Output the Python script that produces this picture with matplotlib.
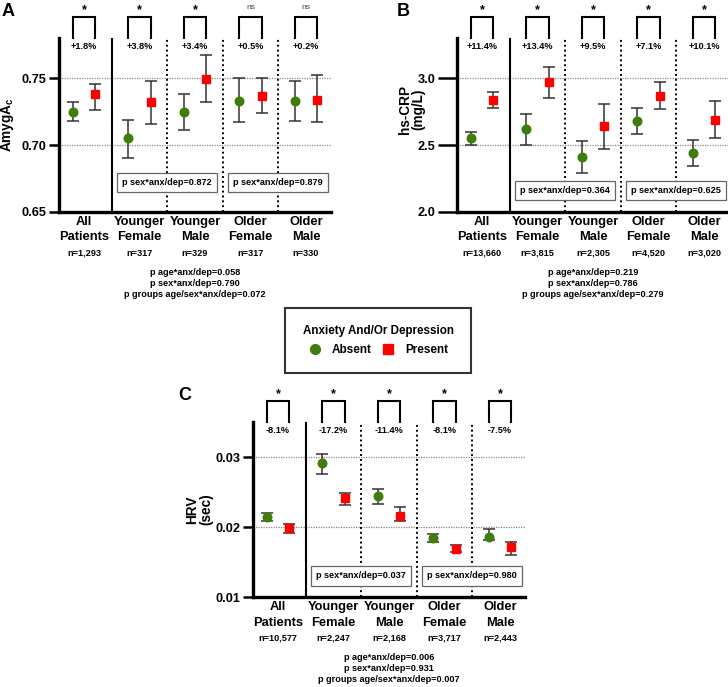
import matplotlib
matplotlib.use("Agg")
import matplotlib.pyplot as plt
from matplotlib.lines import Line2D

plt.rcParams['font.family'] = ['Liberation Sans', 'DejaVu Sans']
plt.rcParams['font.weight'] = 'bold'
plt.rcParams['mathtext.fontset'] = 'custom'
plt.rcParams['mathtext.rm'] = 'Liberation Sans'
plt.rcParams['mathtext.bf'] = 'Liberation Sans:bold'

groups = ["All\nPatients", "Younger\nFemale", "Younger\nMale", "Older\nFemale", "Older\nMale"]

# panel A - AmygA_c
amyg_absent = [0.725, 0.705, 0.725, 0.733, 0.733]
amyg_absent_lo = [0.718, 0.690, 0.711, 0.717, 0.718]
amyg_absent_hi = [0.732, 0.719, 0.738, 0.750, 0.748]
amyg_present = [0.738, 0.732, 0.749, 0.737, 0.734]
amyg_present_lo = [0.726, 0.716, 0.732, 0.724, 0.717]
amyg_present_hi = [0.746, 0.748, 0.767, 0.750, 0.752]
amyg_n = ["n=1,293", "n=317", "n=329", "n=317", "n=330"]
amyg_pct = ["+1.8%", "+3.8%", "+3.4%", "+0.5%", "+0.2%"]
amyg_sig = ["*", "*", "*", "ns", "ns"]
amyg_box = ["p sex*anx/dep=0.872", "p sex*anx/dep=0.879"]
amyg_p = "p age*anx/dep=0.058\np sex*anx/dep=0.790\np groups age/sex*anx/dep=0.072"

# panel B - hs-CRP
crp_absent = [2.55, 2.62, 2.41, 2.68, 2.44]
crp_absent_lo = [2.50, 2.50, 2.29, 2.58, 2.34]
crp_absent_hi = [2.60, 2.73, 2.53, 2.78, 2.54]
crp_present = [2.84, 2.97, 2.64, 2.87, 2.69]
crp_present_lo = [2.78, 2.85, 2.47, 2.77, 2.55]
crp_present_hi = [2.90, 3.08, 2.81, 2.97, 2.83]
crp_n = ["n=13,660", "n=3,815", "n=2,305", "n=4,520", "n=3,020"]
crp_pct = ["+11.4%", "+13.4%", "+9.5%", "+7.1%", "+10.1%"]
crp_sig = ["*", "*", "*", "*", "*"]
crp_box = ["p sex*anx/dep=0.364", "p sex*anx/dep=0.625"]
crp_p = "p age*anx/dep=0.219\np sex*anx/dep=0.786\np groups age/sex*anx/dep=0.279"

# panel C - HRV
hrv_absent = [0.0214, 0.0291, 0.0244, 0.0184, 0.0186]
hrv_absent_lo = [0.0209, 0.0276, 0.0233, 0.0179, 0.0181]
hrv_absent_hi = [0.0220, 0.0305, 0.0254, 0.0190, 0.0197]
hrv_present = [0.0199, 0.0241, 0.0216, 0.0169, 0.0172]
hrv_present_lo = [0.0192, 0.0232, 0.0208, 0.0165, 0.0160]
hrv_present_hi = [0.0204, 0.0249, 0.0228, 0.0174, 0.0178]
hrv_n = ["n=10,577", "n=2,247", "n=2,168", "n=3,717", "n=2,443"]
hrv_pct = ["-8.1%", "-17.2%", "-11.4%", "-8.1%", "-7.5%"]
hrv_sig = ["*", "*", "*", "*", "*"]
hrv_box = ["p sex*anx/dep=0.037", "p sex*anx/dep=0.980"]
hrv_p = "p age*anx/dep=0.006\np sex*anx/dep=0.931\np groups age/sex*anx/dep=0.007"

GREEN = "#3f7d0c"
RED = "#ff0000"
W, H = 728, 687
PT = 0.72  # points per pixel at dpi 100

fig = plt.figure(figsize=(7.28, 6.87), dpi=100)


def make_axes(left, top, bottom):
    # pixel coordinates -> figure fraction, 272 px wide
    return fig.add_axes([left / W, 1 - bottom / H, 272 / W, (bottom - top) / H])


def panel(ax, ylim, yticks, fmt, absent, alo, ahi, present, plo, phi,
          nlab, pct, sig, boxes, boxy, ptext, ylabel, ylabel_xy, ticklen):
    x = range(len(groups))
    xa = [i - 0.2 for i in x]
    xp = [i + 0.2 for i in x]
    ax.set_xlim(-0.45, 4.45)
    ax.set_ylim(*ylim)
    for t in yticks[1:]:
        ax.axhline(t, color="#888888", lw=0.9, ls=(0, (1, 1)), zorder=0)
    ax.axvline(0.5, color="black", lw=1.5, zorder=1)
    for s in [1.5, 2.5, 3.5]:
        ax.axvline(s, color="black", lw=1.4, ls=(0, (1, 1.5)), zorder=1)

    ax.errorbar(xa, absent, yerr=[[a - l for a, l in zip(absent, alo)], [h - a for a, h in zip(absent, ahi)]],
                fmt="none", ecolor="#333333", elinewidth=1.1, capsize=4, capthick=1.1, zorder=2)
    ax.errorbar(xp, present, yerr=[[a - l for a, l in zip(present, plo)], [h - a for a, h in zip(present, phi)]],
                fmt="none", ecolor="#333333", elinewidth=1.1, capsize=4, capthick=1.1, zorder=2)
    ax.plot(xa, absent, "o", color=GREEN, ms=6.2, zorder=3)
    ax.plot(xp, present, "s", color=RED, ms=6.2, zorder=3)

    for s in ["top", "right"]:
        ax.spines[s].set_visible(False)
    ax.spines["left"].set_linewidth(2.4)
    ax.spines["bottom"].set_linewidth(2.4)
    ax.set_yticks(yticks)
    ax.set_yticklabels([fmt.format(t) for t in yticks], fontsize=9.2, fontweight="bold")
    ax.tick_params(axis="y", length=ticklen, width=1.8, pad=1.5)
    ax.set_xticks([])
    ax.set_ylabel(ylabel, fontsize=9.8, fontweight="bold", linespacing=1.0)
    ax.yaxis.set_label_coords(*ylabel_xy)

    tr = ax.get_xaxis_transform()
    for i in x:
        first, second = groups[i].split("\n")
        ax.annotate(first, (i, 0), xycoords=tr, xytext=(0, -10 * PT), textcoords="offset points",
                    ha="center", va="center", fontsize=9.3, fontweight="bold")
        ax.annotate(second, (i, 0), xycoords=tr, xytext=(0, -25.5 * PT), textcoords="offset points",
                    ha="center", va="center", fontsize=9.3, fontweight="bold")
        ax.annotate(nlab[i], (i, 0), xycoords=tr, xytext=(0, -41 * PT), textcoords="offset points",
                    ha="center", va="center", fontsize=6.6, fontweight="bold")
        ax.text(i, 0.954, pct[i], transform=tr, ha="center", va="center",
                fontsize=6.6, fontweight="bold")
        ax.plot([xa[i], xa[i], xp[i], xp[i]], [1.0, 1.118, 1.118, 1.0], transform=tr,
                color="black", lw=1.5, clip_on=False, solid_joinstyle="miter")
        if sig[i] == "ns":
            ax.text(i, 1.175, "ns", transform=tr, ha="center", va="center",
                    fontsize=6, fontweight="normal", color="#444444")
        else:
            ax.text(i, 1.16, "*", transform=tr, ha="center", va="center",
                    fontsize=9, fontweight="bold")

    for cx, txt in zip([1.5, 3.5], boxes):
        ax.text(cx, boxy, txt, transform=tr, ha="center", va="center",
                fontsize=6.6, fontweight="bold",
                bbox=dict(boxstyle="square,pad=0.55", fc="white", ec="#666666", lw=0.9), zorder=4)

    ax.annotate(ptext, (2.0, 0), xycoords=tr, xytext=(0, -40.5),
                textcoords="offset points", ha="center", va="top", fontsize=6.6,
                fontweight="bold", linespacing=1.25)


axA = make_axes(59, 38, 212)
panel(axA, (0.65, 0.78), [0.65, 0.70, 0.75], "{:.2f}",
      amyg_absent, amyg_absent_lo, amyg_absent_hi, amyg_present, amyg_present_lo, amyg_present_hi,
      amyg_n, amyg_pct, amyg_sig, amyg_box, 0.172, amyg_p,
      r"AmygA$_\mathbf{c}$", (-0.158, 0.5), 7.5)

axB = make_axes(457, 38, 212)
panel(axB, (2.0, 3.3), [2.0, 2.5, 3.0], "{:.1f}",
      crp_absent, crp_absent_lo, crp_absent_hi, crp_present, crp_present_lo, crp_present_hi,
      crp_n, crp_pct, crp_sig, crp_box, 0.122, crp_p,
      "hs-CRP\n(mg/L)", (-0.115, 0.59), 14)

axC = make_axes(253, 422, 597)
panel(axC, (0.01, 0.035), [0.01, 0.02, 0.03], "{:.2f}",
      hrv_absent, hrv_absent_lo, hrv_absent_hi, hrv_present, hrv_present_lo, hrv_present_hi,
      hrv_n, hrv_pct, hrv_sig, hrv_box, 0.12, hrv_p,
      "HRV\n(sec)", (-0.145, 0.5), 7.5)

fig.text(2 / W, 1 - 12 / H, "A", fontsize=13, fontweight="bold", ha="left", va="center")
fig.text(397 / W, 1 - 12 / H, "B", fontsize=13, fontweight="bold", ha="left", va="center")
fig.text(178 / W, 1 - 395 / H, "C", fontsize=13, fontweight="bold", ha="left", va="center")

handles = [Line2D([], [], marker="o", ls="none", color=GREEN, ms=7),
           Line2D([], [], marker="s", ls="none", color=RED, ms=7)]
leg = fig.legend(handles, ["Absent", "Present"], ncol=2, loc="center",
                 bbox_to_anchor=(378 / W, 1 - 340.5 / H), title="Anxiety And/Or Depression",
                 frameon=True, fancybox=False, edgecolor="black", prop={"size": 8.5, "weight": "bold"},
                 title_fontproperties={"size": 8.4, "weight": "bold"},
                 handletextpad=0.8, columnspacing=0.8, borderpad=1.45, labelspacing=0.6,
                 handlelength=1.2)
leg.get_frame().set_linewidth(1.5)

fig.savefig("out.png", dpi=100)
